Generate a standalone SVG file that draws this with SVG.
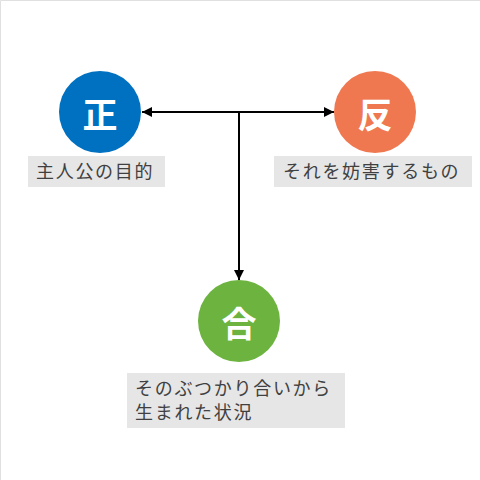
<svg xmlns="http://www.w3.org/2000/svg" width="480" height="480" viewBox="0 0 480 480">
<defs>
<style>
.big{font-family:"Noto Sans CJK JP","Noto Sans CJK SC",sans-serif;font-size:35px;font-weight:bold;fill:#ffffff;text-anchor:middle;dominant-baseline:central}
.lbl{font-family:"Noto Sans CJK JP","Noto Sans CJK SC",sans-serif;font-size:18px;letter-spacing:1.7px;fill:#404040}
.box{fill:#e6e6e6}
.con{stroke:#000000;stroke-width:2;fill:none}
</style>
<marker id="ah" viewBox="0 0 10 10" refX="10" refY="5" markerWidth="5" markerHeight="5" orient="auto" markerUnits="strokeWidth">
<path d="M0,0 L10,5 L0,10 z" fill="#000000"/>
</marker>
</defs>
<rect x="0" y="0" width="480" height="480" fill="#ffffff"/>
<path d="M0.5,480 V0.5 H480" stroke="#e0e0e0" stroke-width="1" fill="none"/>
<g id="connectors">
<line class="con" x1="239" y1="112" x2="142" y2="112" marker-end="url(#ah)"/>
<line class="con" x1="239" y1="112" x2="334" y2="112" marker-end="url(#ah)"/>
<line class="con" x1="239" y1="112" x2="239" y2="280" marker-end="url(#ah)"/>
</g>
<g id="sei">
<circle cx="100" cy="112" r="41" fill="#0070c0"/>
<text class="big" x="100" y="112">正</text>
<rect class="box" x="28" y="156" width="137" height="31"/>
<text class="lbl" x="36" y="178">主人公の目的</text>
</g>
<g id="han">
<circle cx="375" cy="112" r="41" fill="#f07850"/>
<text class="big" x="375" y="112">反</text>
<rect class="box" x="274" y="156" width="198" height="31"/>
<text class="lbl" x="283" y="178">それを妨害するもの</text>
</g>
<g id="gou">
<circle cx="239" cy="321" r="41" fill="#6db33f"/>
<text class="big" x="239" y="321">合</text>
<rect class="box" x="127" y="373" width="218" height="55"/>
<text class="lbl" x="135" y="395">そのぶつかり合いから</text>
<text class="lbl" x="135" y="419">生まれた状況</text>
</g>
</svg>
